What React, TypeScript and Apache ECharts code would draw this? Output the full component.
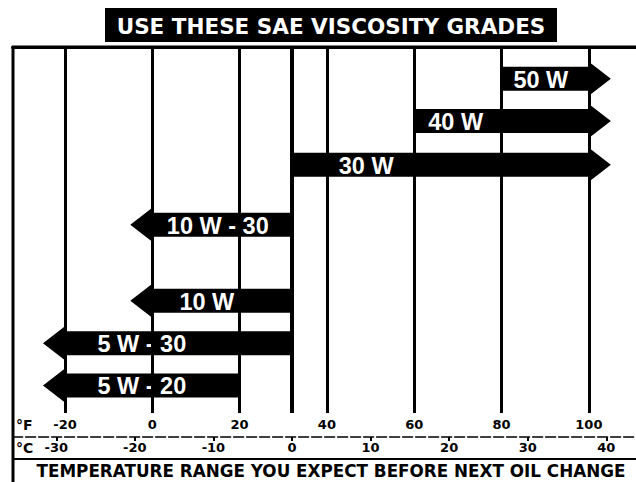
import React, { useEffect, useRef } from "react";
import * as echarts from "echarts";

// ---- data ----
const grades = ["50 W", "40 W", "30 W", "10 W - 30", "10 W", "5 W - 30", "5 W - 20"];
const lowF = [80, 60, 32, 0, 0, -20, -20];
const highF = [100, 100, 100, 32, 32, 32, 20];
const openLow = [false, false, false, true, true, true, true];
const openHigh = [true, true, true, false, false, false, false];
const fTicks = [-20, 0, 20, 40, 60, 80, 100];
const cTicks = [-30, -20, -10, 0, 10, 20, 30, 40];
const freezingF = 32;
const titleText = "USE THESE SAE VISCOSITY GRADES";
const footText = "TEMPERATURE RANGE YOU EXPECT BEFORE NEXT OIL CHANGE";

// ---- layout ----
const rowPos = [0.75, 1.75, 2.78, 4.2, 6.0, 7.0, 8.0];
const labelAtF = [89, 69.5, 49, 15, 12.5, -2.4, -2.4];
const F_MIN = -32;
const F_MAX = 110.8;
const toC = (f: number) => ((f - 32) * 5) / 9;

const BOLD = "DejaVu Sans";

export default function App() {
  const ref = useRef<HTMLDivElement>(null);
  useEffect(() => {
    if (!ref.current) return;
    const chart = echarts.init(ref.current, undefined, { renderer: "svg" });
    const data = grades.map((g, i) => [lowF[i], highF[i], rowPos[i], labelAtF[i], i]);
    const option: any = {
      animation: false,
      backgroundColor: "#fff",
      grid: { left: 12.6, right: 0, top: 47, bottom: 69 },
      xAxis: [
        {
          type: "value",
          min: F_MIN,
          max: F_MAX,
          position: "bottom",
          axisLine: { show: true, lineStyle: { color: "#000", width: 3 } },
          axisTick: { show: true, customValues: fTicks, length: 6, lineStyle: { color: "#000", width: 3 } },
          axisLabel: {
            customValues: fTicks,
            margin: 5,
            color: "#000",
            fontFamily: BOLD,
            fontWeight: "bold",
            fontSize: 13,
          },
          splitLine: { show: false },
        },
        {
          type: "value",
          min: toC(F_MIN),
          max: toC(F_MAX),
          position: "bottom",
          offset: 24,
          axisLine: { show: true, lineStyle: { color: "#000", width: 1.5, type: [10, 3] } },
          axisTick: { show: true, customValues: cTicks, length: 4, lineStyle: { color: "#000", width: 2 } },
          axisLabel: {
            customValues: cTicks,
            margin: 4,
            color: "#000",
            fontFamily: BOLD,
            fontWeight: "bold",
            fontSize: 13,
          },
          splitLine: { show: false },
        },
      ],
      yAxis: { type: "value", inverse: true, min: 0, max: 8.65, show: false },
      series: [
        {
          type: "custom",
          xAxisIndex: 0,
          yAxisIndex: 0,
          clip: false,
          data,
          renderItem: (params: any, api: any) => {
            const i = api.value(4);
            const row = api.value(2);
            const pL = api.coord([api.value(0), row]);
            const pH = api.coord([api.value(1), row]);
            const lab = api.coord([api.value(3), row]);
            const cy = pL[1];
            const bh = 12;
            const hh = 17;
            const hl = 22;
            const xl = pL[0];
            const xh = pH[0];
            const pts: number[][] = [];
            if (openLow[i]) {
              pts.push([xl - hl, cy], [xl, cy - hh], [xl, cy - bh]);
            } else {
              pts.push([xl, cy - bh]);
            }
            if (openHigh[i]) {
              pts.push([xh, cy - bh], [xh, cy - hh], [xh + hl, cy], [xh, cy + hh], [xh, cy + bh]);
            } else {
              pts.push([xh, cy - bh], [xh, cy + bh]);
            }
            if (openLow[i]) {
              pts.push([xl, cy + bh], [xl, cy + hh]);
            } else {
              pts.push([xl, cy + bh]);
            }
            return {
              type: "group",
              children: [
                { type: "polygon", shape: { points: pts }, style: { fill: "#000" } },
                {
                  type: "text",
                  x: lab[0],
                  y: cy + 1,
                  style: {
                    text: grades[i],
                    fill: "#fff",
                    fontSize: 23.5,
                    fontFamily: "Liberation Sans",
                    fontWeight: "bold",
                    align: "center",
                    verticalAlign: "middle",
                    textAlign: "center",
                    textVerticalAlign: "middle",
                  },
                },
              ],
            };
          },
          markLine: {
            silent: true,
            symbol: ["none", "none"],
            label: { show: false },
            lineStyle: { color: "#000", width: 3, type: "solid" },
            data: [
              ...fTicks.map((v) => ({ xAxis: v })),
              { xAxis: freezingF, lineStyle: { color: "#000", width: 4, type: "solid" } },
            ],
          },
          z: 3,
        },
      ],
      graphic: [
        { type: "rect", shape: { x: 105, y: 8, width: 452, height: 34 }, style: { fill: "#000" } },
        {
          type: "text",
          x: 331,
          y: 26,
          style: {
            text: titleText,
            fill: "#fff",
            fontSize: 21.5,
            fontFamily: BOLD,
            fontWeight: "bold",
            align: "center",
            verticalAlign: "middle",
            textAlign: "center",
            textVerticalAlign: "middle",
          },
        },
        { type: "line", shape: { x1: 12, y1: 47, x2: 636, y2: 47 }, style: { stroke: "#000", lineWidth: 3 } },
        { type: "line", shape: { x1: 13, y1: 46, x2: 13, y2: 482 }, style: { stroke: "#000", lineWidth: 3 } },
        { type: "line", shape: { x1: 12, y1: 459, x2: 636, y2: 459 }, style: { stroke: "#000", lineWidth: 2 } },
        {
          type: "text",
          x: 16,
          y: 425,
          style: { text: "°F", fill: "#000", fontSize: 14, fontFamily: BOLD, fontWeight: "bold", verticalAlign: "middle", textVerticalAlign: "middle" },
        },
        {
          type: "text",
          x: 16,
          y: 448,
          style: { text: "°C", fill: "#000", fontSize: 14, fontFamily: BOLD, fontWeight: "bold", verticalAlign: "middle", textVerticalAlign: "middle" },
        },
        {
          type: "text",
          x: 331,
          y: 471,
          style: {
            text: footText,
            fill: "#000",
            fontSize: 16.8,
            fontFamily: BOLD,
            fontWeight: "bold",
            align: "center",
            verticalAlign: "middle",
            textAlign: "center",
            textVerticalAlign: "middle",
          },
        },
      ],
    };
    chart.setOption(option);
    return () => chart.dispose();
  }, []);
  return (
    <div
      ref={ref}
      style={{ position: "fixed", left: 0, top: 0, width: 636, height: 482, background: "#fff" }}
    />
  );
}
